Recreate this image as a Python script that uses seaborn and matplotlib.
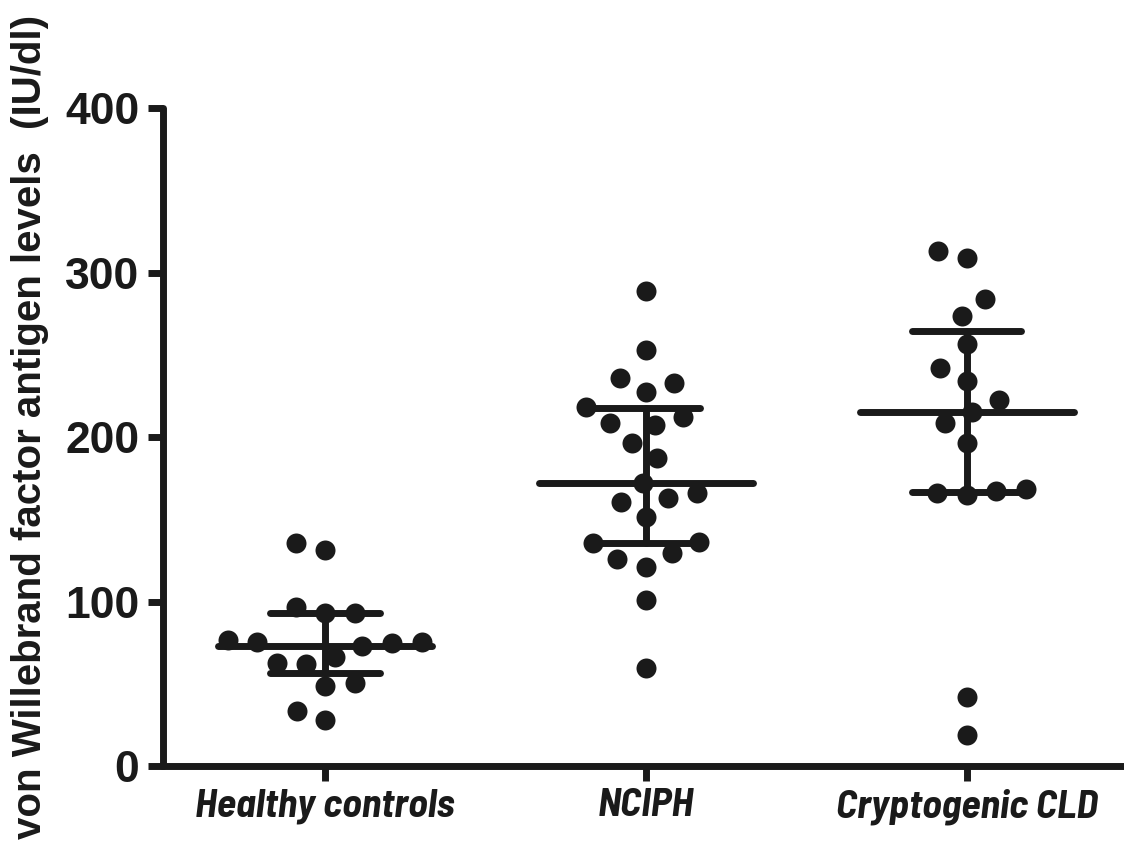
import numpy as np
import pandas as pd
import matplotlib
matplotlib.use("Agg")
import matplotlib.pyplot as plt
import seaborn as sns

# ---------------- data ----------------
categories = ["Healthy controls", "NCIPH", "Cryptogenic CLD"]
healthy = [131.3, 135.8, 93.2, 93.2, 96.5, 76.6, 75.6, 74.6, 73.0, 75.6,
           66.1, 62.4, 62.0, 50.3, 48.6, 28.0, 33.6]
nciph = [288.8, 252.9, 232.8, 235.9, 227.4, 212.2, 218.2, 207.3, 208.5,
         196.4, 187.2, 172.0, 166.0, 160.5, 162.9, 151.4, 136.2, 129.5,
         135.6, 121.0, 125.8, 100.9, 59.6]
crypto = [309.0, 313.5, 284.3, 273.4, 256.4, 242.0, 234.4, 222.7, 215.3,
          208.3, 196.4, 167.2, 164.5, 166.0, 168.6, 42.0, 18.6]
medians = [73.0, 172.2, 215.5]
q1 = [56.4, 135.6, 166.6]
q3 = [93.0, 217.6, 264.6]
y_ticks = [0, 100, 200, 300, 400]
y_label = "von Willebrand factor antigen levels  (IU/dl)"

# ---------------- style ----------------
ink = "#1a1a1a"
sns.set_theme(style="ticks")
plt.rcParams["font.family"] = ["Liberation Sans", "DejaVu Sans"]

df = pd.DataFrame({
    "group": [categories[0]] * len(healthy) + [categories[1]] * len(nciph)
             + [categories[2]] * len(crypto),
    "value": healthy + nciph + crypto,
})

fig = plt.figure(figsize=(11.24, 8.46), dpi=100)
ax = fig.add_axes([0.145, 0.0946, 0.855, 0.7774])

sns.swarmplot(data=df, x="group", y="value", order=categories, color=ink,
              size=17.4, edgecolor="white", linewidth=3.0, ax=ax, zorder=2)

# median with interquartile range
for i, cat in enumerate(categories):
    ax.plot([i - 0.333, i + 0.333], [medians[i]] * 2, color=ink, lw=5,
            solid_capstyle="round", zorder=4)
    ax.plot([i - 0.17, i + 0.17], [q1[i]] * 2, color=ink, lw=5,
            solid_capstyle="round", zorder=4)
    ax.plot([i - 0.17, i + 0.17], [q3[i]] * 2, color=ink, lw=5,
            solid_capstyle="round", zorder=4)
    ax.plot([i, i], [q1[i], q3[i]], color=ink, lw=5, zorder=4)

ax.set_xlim(-0.505, 2.49)
ax.set_ylim(0, 400)
ax.set_yticks(y_ticks)
ax.set_yticklabels([str(t) for t in y_ticks], fontsize=32, fontweight="bold",
                   color=ink)
ax.set_xticks(range(len(categories)))
ax.set_xticklabels(categories, fontsize=29, fontweight="bold",
                   fontstyle="italic",
                   family=["Barlow Semi Condensed", "DejaVu Sans"], color=ink)
ax.set_xlabel("")
ax.set_ylabel(y_label, fontsize=29, fontweight="bold", color=ink)
ax.yaxis.set_label_coords(-0.119, 0.515)

for s in ["top", "right"]:
    ax.spines[s].set_visible(False)
for s in ["left", "bottom"]:
    ax.spines[s].set_linewidth(5)
    ax.spines[s].set_color(ink)
    ax.spines[s].set_capstyle("round")
ax.tick_params(axis="both", direction="out", length=11, width=5, color=ink)
ax.tick_params(axis="y", pad=6)
ax.tick_params(axis="x", pad=5)

fig.savefig("out.png", dpi=100)
